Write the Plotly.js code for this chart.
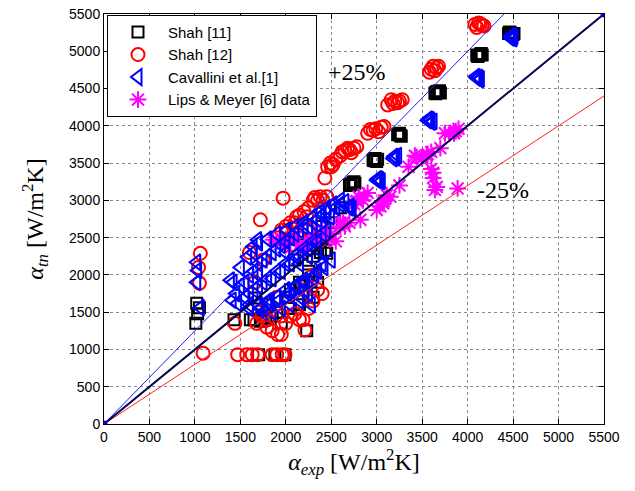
<!DOCTYPE html>
<html>
<head>
<meta charset="utf-8">
<script src="https://cdn.plot.ly/plotly-3.0.1.min.js"></script>
<style>html,body{margin:0;padding:0;background:#fff;}#chart{width:635px;height:491px;}</style>
</head>
<body>
<div id="chart"></div>
<script>
// Shah [11] – black open squares
const shah11X = [1020,1030,1010,1050,1430,1700,1880,1990,1610,1660,1720,1780,1850,1900,1950,2050,2150,2230,2300,2350,2380,2430,2450,2400,2500,2600,2700,2720,2740,2760,2960,2980,3000,3230,3250,3270,3640,3660,3680,3700,4100,4120,4140,4160,4450,4470,4490,4510,1800,2000,2100,2250,
  2710,2750,2970,3010,3240,3260,3650,3690,4110,4150,4460,4500,2200,2300,2350,1750,1650,2050,2150,2250,2400];
const shah11Y = [1620,1480,1350,1560,1400,930,930,930,1400,1690,1380,1420,1450,1500,1350,1550,1600,1250,1700,1900,2300,2330,2290,2650,2700,2900,3200,3220,3240,3230,3540,3560,3520,3880,3900,3860,4440,4460,4450,4440,4950,4940,4960,4950,5240,5250,5230,5240,1600,1700,2200,2000,
  3210,3250,3530,3550,3890,3870,4430,4470,4930,4970,5260,5220,2400,2250,2350,1450,1400,1800,1900,2050,2500];

// Shah [12] – red open circles
const shah12X = [1060,1040,1050,1090,1470,1570,1630,1690,1850,1900,1960,1990,1440,1910,2210,2190,1680,1790,1850,2000,1740,2100,1950,1660,1720,1970,1600,2020,2100,2120,2230,2320,2300,2410,2450,2490,2520,2650,2700,2720,2960,2990,3020,3050,3180,3200,3230,3580,3600,3640,3660,4080,4120,4140,4160,1800,1900,2200,2300,2150,1750,2050,2250,
  1900,1950,2000,2050,2150,2200,2250,2350,2380,2430,2460,2500,2550,2600,2620,2680,2750,2780,2900,2930,3080,3120,3160,3250,3280,3620,3680,4100,4180,2050,2150,2250,2300,1800,1700,1950,2350,2400];
const shah12Y = [2290,2100,1890,950,930,930,930,930,930,930,930,930,1350,1200,1260,1400,1350,1300,1250,1350,1450,1480,1200,1900,2740,3030,2300,2600,2700,2780,2780,3040,3000,3000,3050,3500,3480,3670,3680,3640,3940,3960,3920,3980,4300,4330,4310,4720,4760,4740,4780,5360,5380,5370,5350,1600,1700,1800,2000,2500,2200,2400,2600,
  2500,2600,2650,2700,2800,2850,2900,3000,3050,3300,3450,3450,3550,3600,3650,3700,3700,3720,3900,3950,3990,4280,4350,4330,4350,4800,4800,5320,5340,1450,1400,1550,1650,1400,1500,1450,1800,1750];

// Cavallini et al.[1] – blue open left triangles
const cavX = [1020,1030,1020,1060,1390,1410,1690,1470,1600,1640,1830,2050,2160,2190,2210,1420,1500,1580,1640,1700,1800,1900,2010,2100,2200,2300,2380,2450,2520,2600,1650,1750,1850,1950,2050,2150,2250,2350,1720,1820,1920,2020,2120,2220,2320,2420,2500,2700,2710,2490,3000,3030,3050,3180,3200,3230,3560,3590,3620,4100,4120,4140,4470,4490,4510,1550,1700,2000,2280,
  1450,1500,1550,1600,1650,1700,1750,1800,1850,1900,1950,2000,2050,2100,2150,2200,2250,2300,2350,2400,2450,2550,2600,2650,
  1600,1700,1800,1900,2000,2100,2200,2300,2400,2450,2350,2250,2150,
  1600,1700,1800,1900,2000,2100,2200,2300,2350,2400,2250,2150,2050,1950,1850,1750,
  2690,2730,3010,3040,3190,3210,3570,3600,4090,4130,4480,4500];
const cavY = [2170,2060,1900,1560,1930,1660,2470,1620,1600,2380,1660,1730,1700,1930,1800,1900,2100,2240,2300,2430,2480,2550,2600,2650,2700,2780,2850,2900,2950,3000,1800,1900,1950,2050,2150,2250,2350,2450,1550,1600,1650,1750,1850,1900,2000,2100,2200,2900,2920,2780,3270,3280,3260,3560,3580,3600,4070,4080,4060,4640,4650,4630,5180,5190,5200,1700,2000,2300,1600,
  1750,1850,1900,2000,2050,2150,2200,2250,2300,2350,2400,2450,2500,2550,2600,2650,2650,2700,2750,2800,2850,2900,2950,2980,
  1750,1850,1950,2050,2150,2250,2350,2450,2550,2600,2350,2250,2150,
  1550,1600,1650,1700,1800,1850,1900,1950,2050,2150,1750,1650,1600,1550,1500,1500,
  2910,2890,3290,3250,3590,3570,4090,4050,4660,4620,5210,5170];

// Lips & Meyer [6] data – magenta asterisks
const lipsX = [1860,1900,2000,2100,2250,2300,2400,2500,2550,2600,2650,2750,2800,2850,2900,3000,3070,3110,3150,3250,3350,3440,3550,3600,3620,3640,3700,3750,3850,3900,3890,2450,2200,2820,2630,
  3800,3870,3560,3500,3420,3620,3600,3660,3080,3040,2860,2780,2700,2600,2480,2350,2150,2050,1950];
const lipsY = [2470,2450,2400,2500,2450,2500,2600,2550,2450,2700,2650,2950,3050,3000,3100,2870,2960,3070,3050,3200,3450,3580,3600,3650,3370,3140,3700,3900,3900,3960,3160,2550,2350,2740,2700,
  3900,3930,3620,3560,3600,3300,3420,3180,2990,2920,3060,2990,2700,2650,2480,2450,2400,2450,2480];

// Reference lines
const lineX = [0,5500];
const lineEq = [0,5500];
const plusX = [0,4400];
const plusY = [0,5500];
const minusX = [0,5500];
const minusY = [0,4400];

const data = [
  {x: shah11X, y: shah11Y, type:'scatter', mode:'markers', name:'Shah [11]', legendrank:1,
   marker:{symbol:'square-open', size:11, color:'#000000', line:{width:2, color:'#000000'}}},
  {x: shah12X, y: shah12Y, type:'scatter', mode:'markers', name:'Shah [12]', legendrank:2,
   marker:{symbol:'circle-open', size:13, color:'#ff0000', line:{width:2, color:'#ff0000'}}},
  {x: lipsX, y: lipsY, type:'scatter', mode:'markers', name:'Lips & Meyer [6] data', legendrank:4,
   marker:{symbol:'asterisk-open', size:14, color:'#ff00ff', line:{width:2, color:'#ff00ff'}}},
  {x: cavX, y: cavY, type:'scatter', mode:'markers', name:'Cavallini et al.[1]', legendrank:3,
   marker:{symbol:'triangle-left-open', size:14, color:'#0000ff', line:{width:2, color:'#0000ff'}}},
  {x: minusX, y: minusY, type:'scatter', mode:'lines', showlegend:false, hoverinfo:'skip',
   line:{color:'#ff2020', width:1}},
  {x: plusX, y: plusY, type:'scatter', mode:'lines', showlegend:false, hoverinfo:'skip',
   line:{color:'#2020ff', width:1}},
  {x: lineX, y: lineEq, type:'scatter', mode:'lines', showlegend:false, hoverinfo:'skip',
   line:{color:'#000000', width:2}},
  {x: lineX, y: lineEq, type:'scatter', mode:'lines+markers', showlegend:false, hoverinfo:'skip',
   line:{color:'#0000cc', width:1}, marker:{color:'#0000ff', size:7}}
];

const axisCommon = {
  range:[0,5500], dtick:500, tick0:0, autorange:false,
  showgrid:true, gridcolor:'#8a8a8a', griddash:'dot', gridwidth:1,
  zeroline:false, showline:true, linecolor:'#000', linewidth:1, mirror:'ticks',
  ticks:'inside', ticklen:5, tickcolor:'#000',
  tickfont:{family:'Liberation Sans, Arial, sans-serif', size:14, color:'#000'}
};

const layout = {
  width:635, height:491,
  margin:{l:104, r:31, t:14, b:67},
  paper_bgcolor:'#fff', plot_bgcolor:'#fff',
  showlegend:true,
  legend:{x:0.006, y:0.998, xanchor:'left', yanchor:'top', bgcolor:'#fff',
    bordercolor:'#000', borderwidth:1, itemwidth:50, traceorder:'normal',
    font:{family:'Liberation Sans, Arial, sans-serif', size:15, color:'#000'}},
  xaxis: Object.assign({}, axisCommon, {
    title:{text:'<i>α</i><sub><i>exp</i></sub> [W/m<sup>2</sup>K]', standoff:8,
      font:{family:'Liberation Serif, Times New Roman, serif', size:24, color:'#000'}}
  }),
  yaxis: Object.assign({}, axisCommon, {
    title:{text:'<i>α</i><sub><i>tn</i></sub> [W/m<sup>2</sup>K]', standoff:18,
      font:{family:'Liberation Serif, Times New Roman, serif', size:24, color:'#000'}}
  }),
  annotations:[
    {x:2783, y:4720, xref:'x', yref:'y', text:'+25%', showarrow:false,
      font:{family:'Liberation Serif, Times New Roman, serif', size:24, color:'#000'}},
    {x:4389, y:3138, xref:'x', yref:'y', text:'-25%', showarrow:false,
      font:{family:'Liberation Serif, Times New Roman, serif', size:24, color:'#000'}}
  ]
};

Plotly.newPlot('chart', data, layout, {displayModeBar:false, staticPlot:true});
</script>
</body>
</html>
